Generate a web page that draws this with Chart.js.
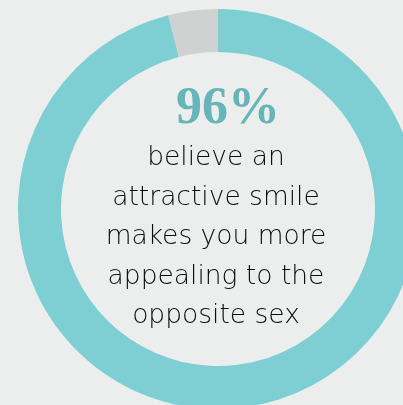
<!DOCTYPE html>
<html>
<head>
<meta charset="utf-8">
<script src="https://cdn.jsdelivr.net/npm/chart.js@4"></script>
<style>
  html, body { margin: 0; padding: 0; background: #eceeed; }
  body { width: 403px; height: 405px; overflow: hidden; position: relative; }
  .chart-box { position: absolute; left: 0; top: 0; width: 436px; height: 418px; }
  .big {
    position: absolute; left: 116px; width: 200px; top: 78px; text-align: center;
    font-family: "Liberation Serif", serif; font-weight: bold; font-size: 52px;
    color: #66b5b8; line-height: 56px; padding-left: 12px;
  }
  .caption {
    position: absolute; left: 46px; width: 340px; top: 136px; text-align: center;
    font-family: "DejaVu Sans", sans-serif; font-weight: 200; font-size: 26.5px;
    color: #0e0e0e; line-height: 39.5px;
  }
</style>
</head>
<body>
<div class="chart-box"><canvas id="ringChart"></canvas></div>
<div class="big" id="bigNum"></div>
<div class="caption" id="caption"></div>
<script>
const labels = ['Believe', 'Do not believe'];
const values = [96, 4];
const captionLines = ['believe an', 'attractive smile', 'makes you more', 'appealing to the', 'opposite sex'];

document.getElementById('bigNum').textContent = values[0] + '%';
document.getElementById('caption').innerHTML = captionLines.join('<br>');

const ctx = document.getElementById('ringChart').getContext('2d');
new Chart(ctx, {
    type: 'doughnut',
    data: {
        labels: labels,
        datasets: [{
            data: values,
            backgroundColor: ['#7ecfd4', '#d0d2d1'],
            borderWidth: 0,
        }],
    },
    options: {
        responsive: true,
        maintainAspectRatio: false,
        animation: false,
        cutout: '78.5%',
        layout: { padding: 9 },
        plugins: {
            legend: { display: false },
            tooltip: { enabled: false },
        },
    },
});
</script>
</body>
</html>
